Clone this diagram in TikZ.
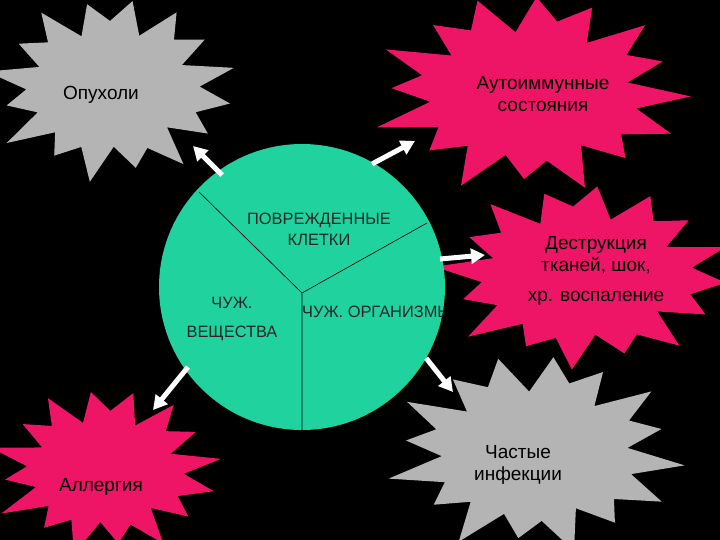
\documentclass[tikz,border=0pt]{standalone}
\usepackage{fontspec}
\setmainfont{Liberation Sans}
\usetikzlibrary{arrows.meta}
\definecolor{gr}{HTML}{B4B4B4}
\definecolor{pk}{HTML}{EE1466}
\definecolor{gn}{HTML}{1FD29E}
\newcommand\burst[7]{%
 \fill[#5] plot[samples at={0,...,31}, variable=\t]
 ({#1+#3*(mod(\t,2)==0 ? 1 : #7)*(1+0.09*sin(97*\t+#6))*cos(\t*11.25+#6)},
  {#2+#4*(mod(\t,2)==0 ? 1 : #7)*(1+0.09*sin(97*\t+#6))*sin(\t*11.25+#6)}) -- cycle;}
\begin{document}
\begin{tikzpicture}[x=1pt,y=-1pt,
 lbl/.style={font=\fontsize{19}{22}\selectfont,align=center,inner sep=0},
 clbl/.style={font=\fontsize{16.4}{21}\selectfont,align=center,inner sep=0,text=black!85},
 arr/.style={white,line width=5pt,-{Triangle[length=14pt,width=15pt]}}]
\fill[black] (0,0) rectangle (720,540);
\useasboundingbox (0,0) rectangle (720,540);
\burst{112}{88}{118}{88}{gr}{10}{0.7}
\burst{530}{92}{150}{95}{pk}{25}{0.7}
\burst{585}{275}{140}{88}{pk}{5}{0.72}
\burst{535}{452}{140}{95}{gr}{30}{0.7}
\burst{105}{470}{110}{80}{pk}{15}{0.68}
\node[lbl] (t1) at (101,95) {Опухоли};
\node[lbl] (t2) at (543,94) {Аутоиммунные\\состояния};
\node[lbl] (t3) at (596,255) {Деструкция\\тканей, шок,};
\node[lbl] (t3b) at (596,298) {хр. воспаление};
\node[lbl] (t4) at (518,465) {Частые\\инфекции};
\node[lbl] (t5) at (101,487) {Аллергия};
\node[circle,fill=gn,minimum size=286pt,inner sep=0] (c) at (302,287) {};
\coordinate (o) at (302,293);
\coordinate (e1) at (199,192);
\coordinate (e2) at (427,223);
\coordinate (e3) at (302,430);
\draw[black,line width=0.6pt] (o) -- (e1) (o) -- (e2) (o) -- (e3);
\node[clbl] (s1) at (319,229) {ПОВРЕЖДЕННЫЕ\\КЛЕТКИ};
\node[clbl] (s2) at (232,303) {ЧУЖ.};
\node[clbl] (s2b) at (232,333) {ВЕЩЕСТВА};
\begin{scope}
\clip (302,287) circle (143pt);
\node[clbl,anchor=west] (s3) at (302,312) {ЧУЖ. ОРГАНИЗМЫ};
\end{scope}
\coordinate (a1s) at (222,175); \coordinate (a1e) at (193,146);
\coordinate (a2s) at (372,164); \coordinate (a2e) at (415,141);
\coordinate (a3s) at (440,259); \coordinate (a3e) at (485,255);
\coordinate (a4s) at (426,358); \coordinate (a4e) at (453,392);
\coordinate (a5s) at (188,367); \coordinate (a5e) at (153,410);
\foreach \i in {1,...,5}{\draw[arr] (a\i s) -- (a\i e);}
\end{tikzpicture}
\end{document}
